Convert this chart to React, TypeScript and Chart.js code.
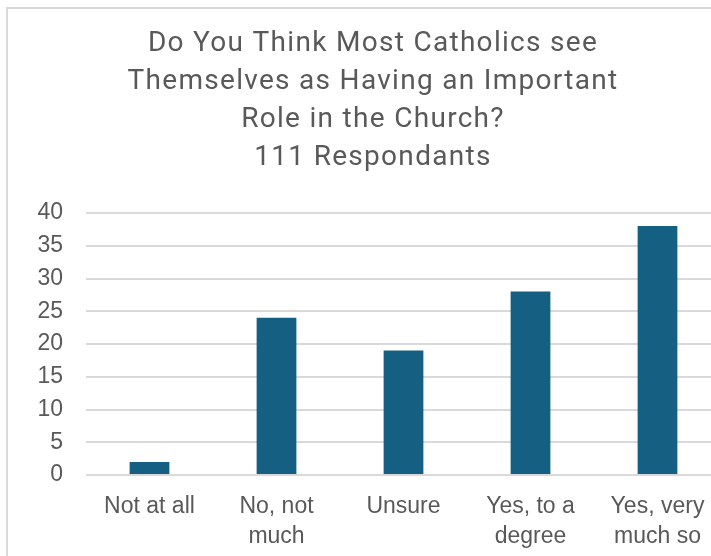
import React, { useEffect, useRef } from "react";
import { Chart, registerables } from "chart.js";

Chart.register(...registerables);

const titleLines = [
  "Do You Think Most Catholics see",
  "Themselves as Having an Important",
  "Role in the Church?",
  "111 Respondants",
];
const categories = [
  ["Not at all"],
  ["No, not", "much"],
  ["Unsure"],
  ["Yes, to a", "degree"],
  ["Yes, very", "much so"],
];
const responses = [2, 24, 19, 28, 38];

const TEXT = "#595959";

const titleSpacing = {
  id: "titleSpacing",
  beforeDraw(chart: any) {
    chart.ctx.letterSpacing = "1.3px";
  },
  beforeDatasetsDraw(chart: any) {
    chart.ctx.letterSpacing = "0px";
  },
};

export default function App() {
  const ref = useRef<HTMLCanvasElement | null>(null);
  useEffect(() => {
    if (!ref.current) return;
    const chart = new Chart(ref.current, {
      type: "bar",
      data: {
        labels: categories,
        datasets: [
          {
            data: responses,
            backgroundColor: "#156082",
            categoryPercentage: 1,
            barPercentage: 0.313,
          },
        ],
      },
      plugins: [titleSpacing],
      options: {
        animation: false,
        responsive: false,
        maintainAspectRatio: false,
        layout: { padding: { left: 0, right: 19, top: 0, bottom: 0 } },
        plugins: {
          legend: { display: false },
          tooltip: { enabled: false },
          title: {
            display: true,
            text: titleLines,
            color: TEXT,
            font: { family: "Roboto", size: 28, weight: "normal", lineHeight: "38px" },
            padding: { top: 25, bottom: 36 },
          },
        },
        scales: {
          x: {
            grid: { display: false },
            border: { display: false },
            ticks: {
              z: 1,
              color: TEXT,
              font: { family: "Liberation Sans", size: 23, lineHeight: "30px" },
              padding: 9,
              maxRotation: 0,
              autoSkip: false,
            },
            afterFit: (s: any) => {
              s.height = 105;
            },
          },
          y: {
            min: 0,
            max: 40,
            grid: { color: "#d9d9d9", lineWidth: 2, drawTicks: false },
            border: { display: false },
            ticks: {
              z: 1,
              stepSize: 5,
              color: TEXT,
              font: { family: "Liberation Sans", size: 23 },
              padding: 23,
            },
            afterFit: (s: any) => {
              s.width = 86;
            },
          },
          y2: {
            position: "right",
            display: true,
            grid: { display: false, drawTicks: false },
            border: { display: false },
            ticks: { display: false },
            afterFit: (s: any) => {
              s.width = 25;
            },
          },
        },
      },
    });
    return () => chart.destroy();
  }, []);

  return (
    <div
      style={{
        position: "fixed",
        left: 0,
        top: 0,
        width: 711,
        height: 556,
        overflow: "hidden",
        background: "#fff",
      }}
    >
      <div
        style={{
          position: "absolute",
          left: 6,
          top: 7,
          width: 800,
          height: 700,
          borderLeft: "2px solid #d9d9d9",
          borderTop: "2px solid #d9d9d9",
        }}
      />
      <canvas
        ref={ref}
        width={765}
        height={580}
        style={{ position: "absolute", left: 0, top: 0, width: 765, height: 580 }}
      />
    </div>
  );
}
